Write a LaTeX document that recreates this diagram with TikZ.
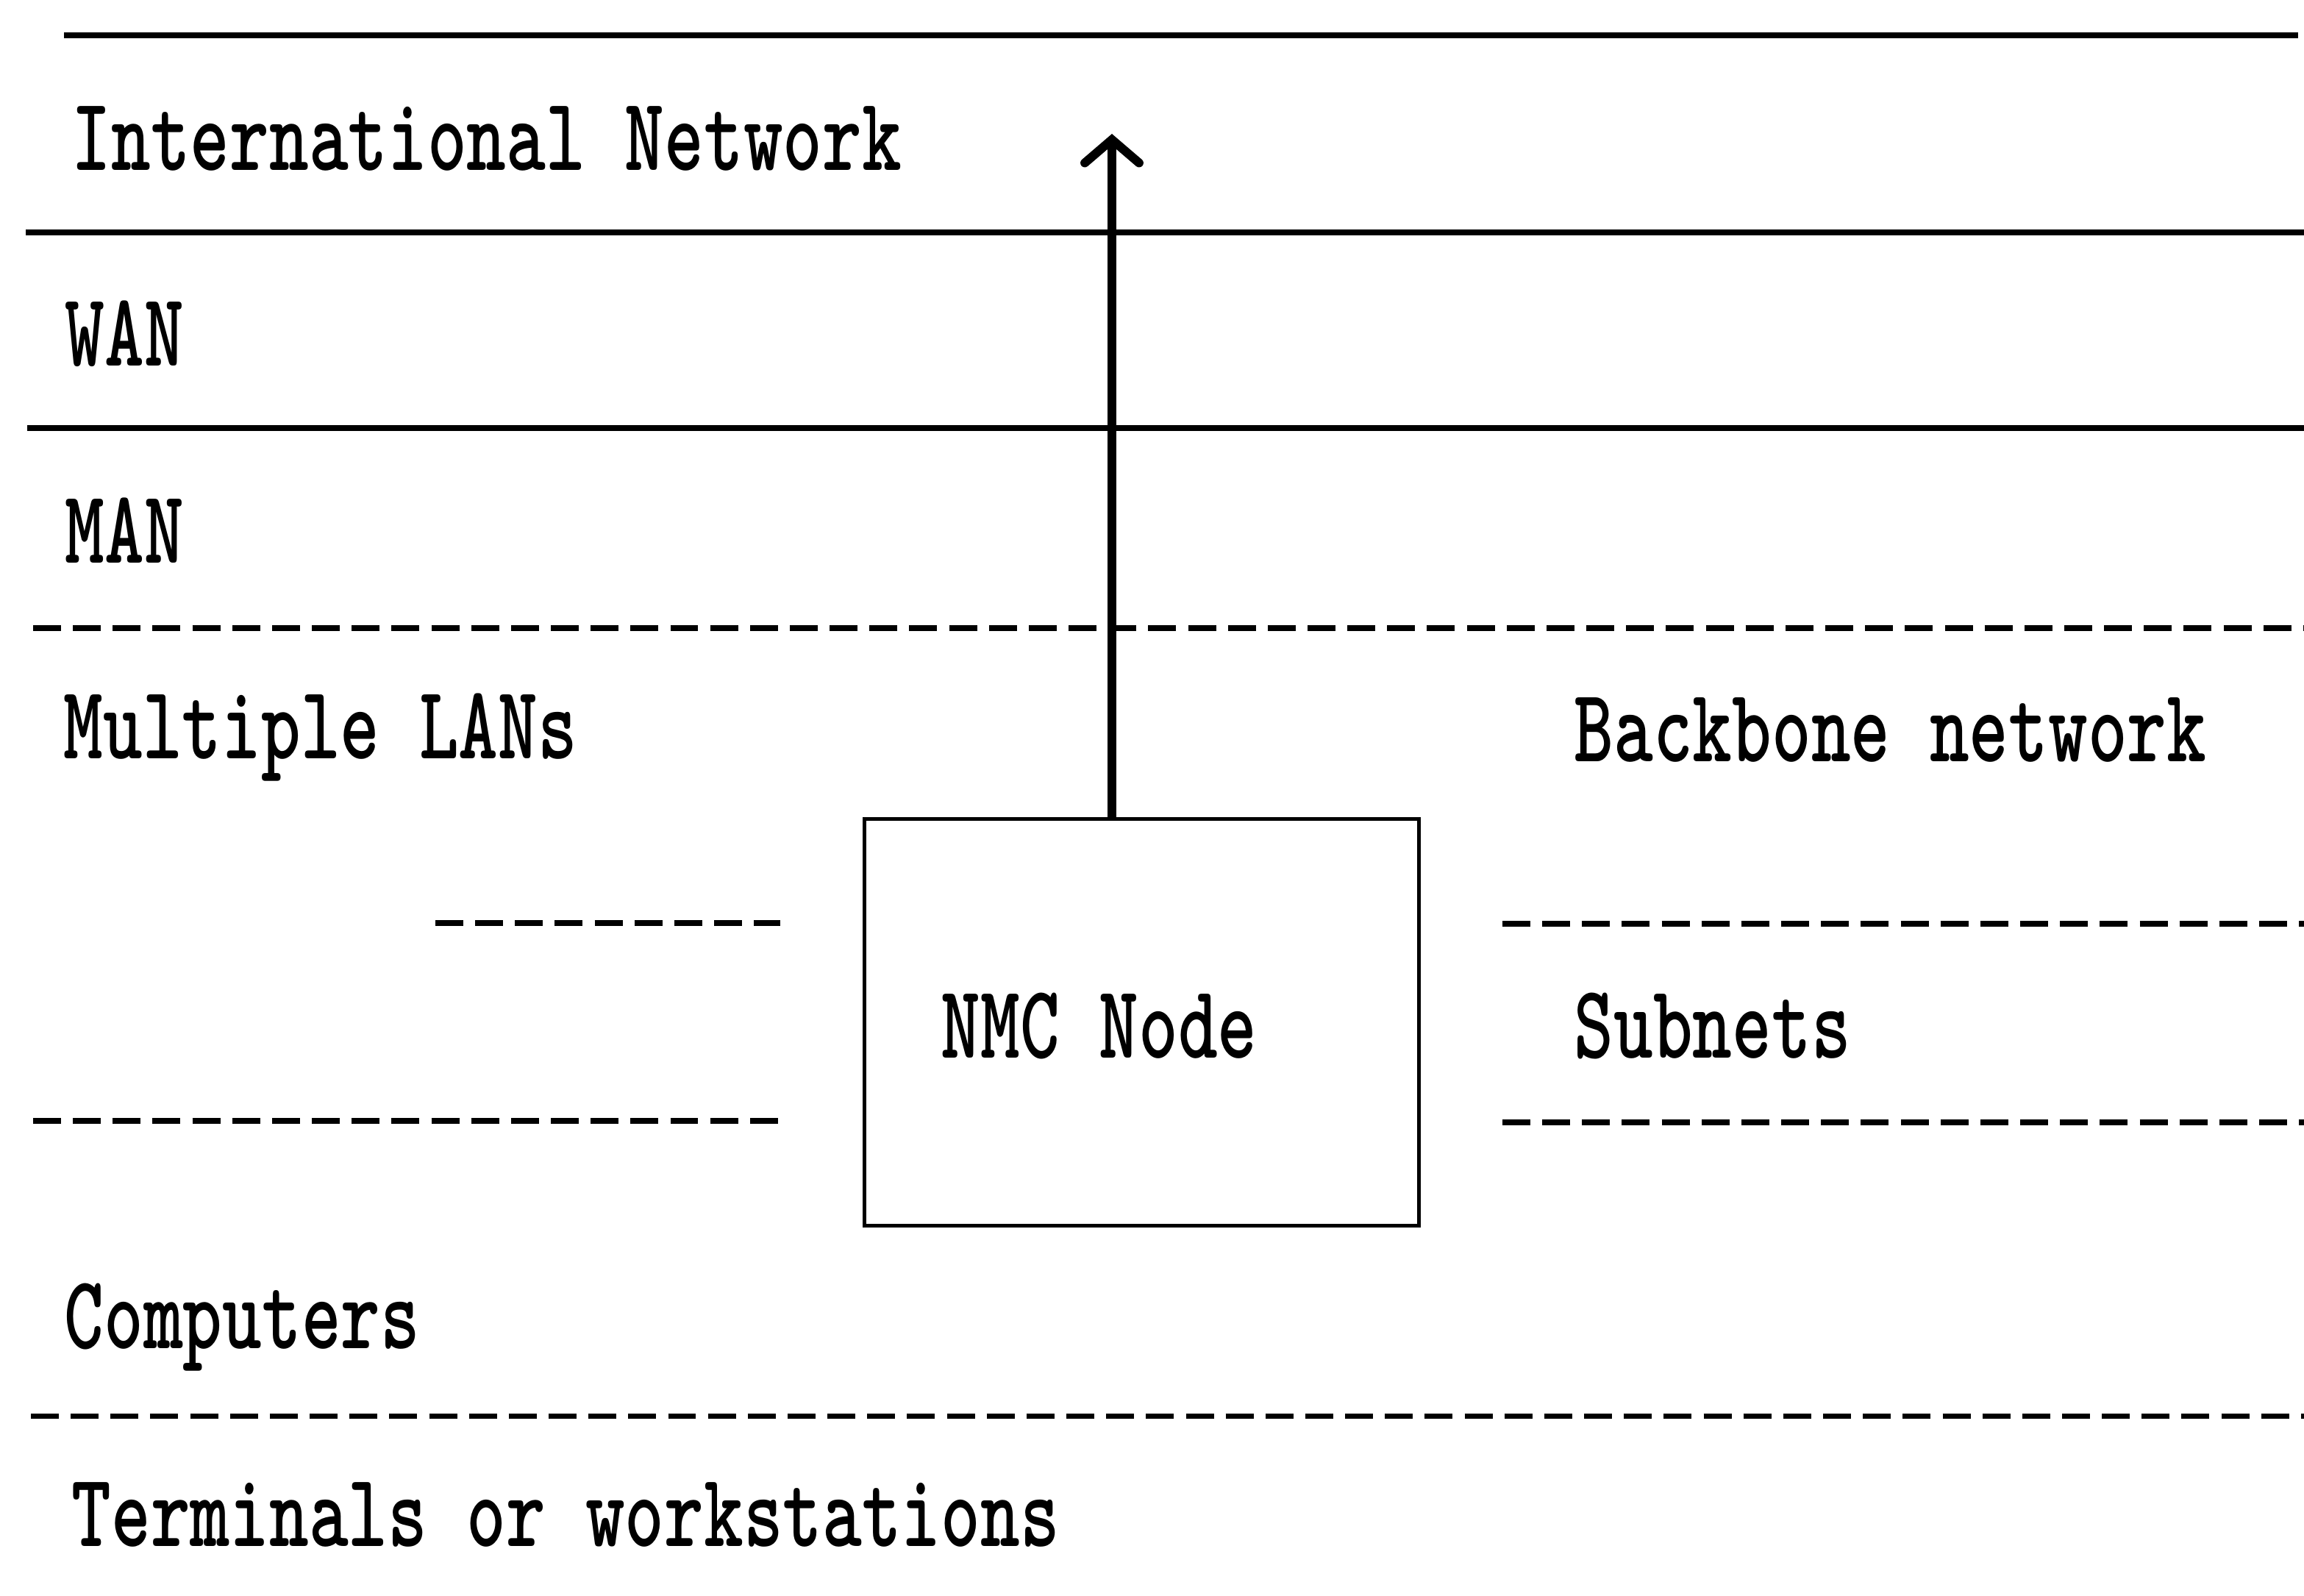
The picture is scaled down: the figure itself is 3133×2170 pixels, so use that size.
\documentclass[tikz,border=0pt]{standalone}
\usepackage{fontspec}
\usepackage{graphicx}
\usetikzlibrary{arrows.meta}
\newcommand{\tall}[1]{\scalebox{1}[1.39]{#1}}
\tikzset{
  lbl/.style={anchor=base west, inner sep=0pt,
    font=\ttfamily\bfseries\fontsize{29.1pt}{34pt}\selectfont},
  rule/.style={line width=2pt},
  dashrule/.style={line width=2pt, dash pattern=on 10.8pt off 4.6pt},
  nodebox/.style={draw, line width=1.5pt, minimum width=7.53cm, minimum height=5.52cm, inner sep=0pt},
  uparrow/.style={line width=3.4pt, -{Straight Barb[length=9pt, width=21pt, line cap=round]}}
}
\begin{document}
\begin{tikzpicture}[x=0.01cm, y=-0.01cm]
  \useasboundingbox (0,0) rectangle (3133,2170);

  % layer separators
  \coordinate (s1a) at (87,48);   \coordinate (s1b) at (3125,48);
  \coordinate (s2a) at (35,316);  \coordinate (s2b) at (3133,316);
  \coordinate (s3a) at (37,582);  \coordinate (s3b) at (3133,582);
  \draw[rule] (s1a) -- (s1b);
  \draw[rule] (s2a) -- (s2b);
  \draw[rule] (s3a) -- (s3b);

  \coordinate (d1a) at (45,854);    \coordinate (d1b) at (3133,854);
  \coordinate (d2a) at (592,1255);  \coordinate (d2b) at (1061,1255);
  \coordinate (d3a) at (2043,1256); \coordinate (d3b) at (3133,1256);
  \coordinate (d4a) at (45,1524);   \coordinate (d4b) at (1061,1524);
  \coordinate (d5a) at (2043,1526); \coordinate (d5b) at (3133,1526);
  \coordinate (d6a) at (42,1925);   \coordinate (d6b) at (3133,1925);
  \draw[dashrule] (d1a) -- (d1b);
  \draw[dashrule] (d2a) -- (d2b);
  \draw[dashrule] (d3a) -- (d3b);
  \draw[dashrule] (d4a) -- (d4b);
  \draw[dashrule] (d5a) -- (d5b);
  \draw[dashrule] (d6a) -- (d6b);

  % layer names
  \node[lbl] (intl) at (97,232)   {\tall{International Network}};
  \node[lbl] (wan)  at (88,498)   {\tall{WAN}};
  \node[lbl] (man)  at (88,765)   {\tall{MAN}};
  \node[lbl] (lans) at (86,1031)  {\tall{Multiple LANs}};
  \node[lbl] (bbn)  at (2140,1035){\tall{Backbone network}};
  \node[lbl] (sub)  at (2140,1438){\tall{Subnets}};
  \node[lbl] (comp) at (87,1833)  {\tall{Computers}};
  \node[lbl] (term) at (97,2102)  {\tall{Terminals or workstations}};

  % management node
  \node[nodebox] (nmc) at (1552.5,1390) {};
  \node[lbl] (nmct) at (1279,1438) {\tall{NMC Node}};

  \coordinate (tip) at (1512,182);
  \draw[uparrow] (tip |- nmc.north) -- (tip);
\end{tikzpicture}
\end{document}
